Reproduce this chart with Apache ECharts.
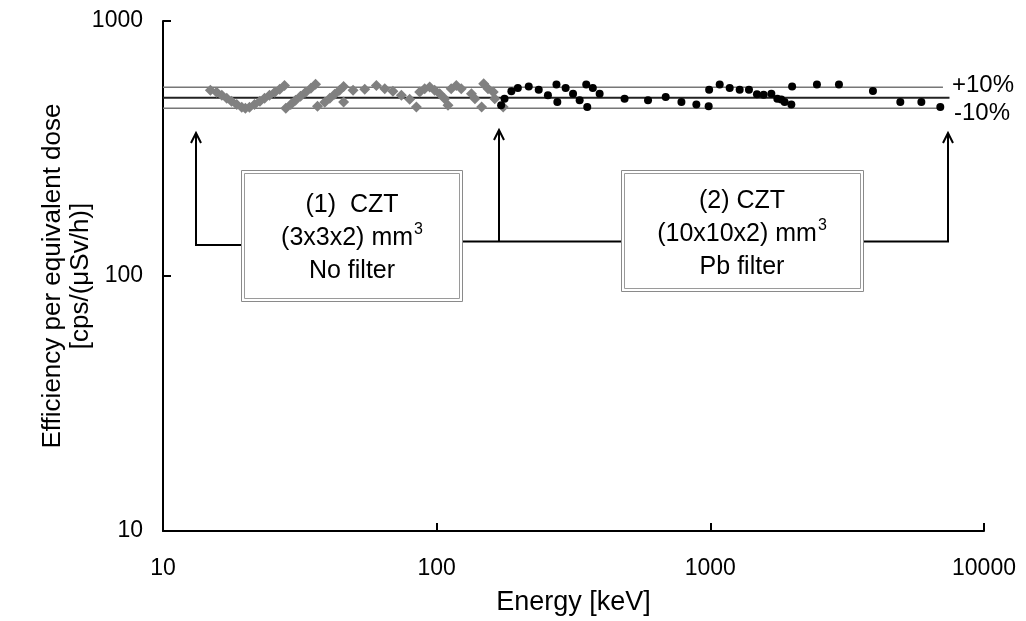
<!DOCTYPE html>
<html>
<head>
<meta charset="utf-8">
<script src="https://cdn.jsdelivr.net/npm/echarts@6/dist/echarts.min.js"></script>
<style>
  html, body { margin: 0; padding: 0; background: #fff; }
  #chart { width: 1026px; height: 621px; }
</style>
</head>
<body>
<div id="chart"></div>
<script>
// (1) CZT (3x3x2) mm3, no filter  - grey diamonds
var czt1Energy = [14.9, 15.7, 16.4, 17.1, 17.8, 18.6, 19.4, 20.0, 20.7, 21.6, 22.6, 23.5, 24.5, 25.6, 26.7, 27.8,
    28.1, 29.3, 30.5, 31.8, 33.2, 34.7, 36.1, 36.7, 39.0, 40.7, 42.4, 44.2, 45.7, 45.7, 49.5, 54.6, 60.2, 64.6,
    69.2, 74.3, 79.7, 84.3, 86.7, 90.4, 94.3, 98.3, 102.6, 107, 110, 113, 118, 123, 134, 138, 146, 148.5, 154, 161, 163, 175];
var czt1Eff = [535, 525, 511, 498, 484, 471, 459, 455, 459, 471, 484, 498, 511, 525, 540, 559,
    455, 471, 489, 507, 525, 545, 565, 463, 480, 498, 516, 535, 554, 481, 535, 540, 559, 543,
    530, 511, 493, 460, 527, 543, 551, 535, 519, 496, 467, 543, 559, 543, 519, 496, 460, 568, 543, 527, 496, 460];

// (2) CZT (10x10x2) mm3, Pb filter - black dots
var czt2Energy = [172, 177, 187.5, 198, 217, 236, 255, 274, 276, 296, 315, 333, 352, 355, 372, 394, 486, 592,
    687, 784, 889, 986, 990, 1082, 1177, 1280, 1384, 1480, 1566, 1671, 1757, 1817, 1868, 1977, 1990, 2452, 2951,
    3928, 4946, 5903, 6923];
var czt2Eff = [467, 496, 530, 546, 554, 538, 511, 563, 481, 546, 519, 489, 563, 460, 546, 519, 496, 489,
    504, 481, 470, 463, 538, 563, 546, 538, 538, 516, 514, 519, 496, 492, 481, 470, 554, 563, 563,
    532, 481, 481, 460];

// reference band (mean and +/-10 %)
var bandEnergy = [10, 7080];
var midEnergy = [10, 7480];
var bandUpper = [550, 550];
var bandMid = [500, 500];
var bandLower = [455, 455];

var xTickLabels = ['10', '100', '1000', '10000'];
var yTickLabels = ['10', '100', '1000'];

function zip(xs, ys) {
    return xs.map(function (x, i) { return [x, ys[i]]; });
}

var FONT = '"Liberation Sans", Arial, sans-serif';

function tickFmt(list) {
    return function (v) {
        var s = String(Math.round(v));
        return list.indexOf(s) >= 0 ? s : '';
    };
}

var chartDom = document.getElementById('chart');
var myChart = echarts.init(chartDom);

var boxStyleOuter = { fill: '#fff', stroke: '#8a8a8a', lineWidth: 1 };
var boxStyleInner = { fill: 'none', stroke: '#9a9a9a', lineWidth: 1 };
var arrowStyle = { fill: 'none', stroke: '#000', lineWidth: 2 };

var boxRich = {
    t: { fontSize: 25, fontFamily: FONT, color: '#000', lineHeight: 33 },
    sup: { fontSize: 16, fontFamily: FONT, color: '#000', lineHeight: 33, verticalAlign: 'top', padding: [0, 0, 0, 1] }
};

var option = {
    backgroundColor: '#fff',
    animation: false,
    grid: { left: 163, right: 42, top: 21, bottom: 90, outerBoundsMode: 'none' },
    xAxis: {
        type: 'log',
        logBase: 10,
        min: 10,
        max: 10000,
        name: 'Energy [keV]',
        nameLocation: 'middle',
        nameGap: 58,
        nameMoveOverlap: false,
        nameTextStyle: { color: '#000', fontSize: 27, fontFamily: FONT },
        axisLine: { lineStyle: { color: '#000', width: 2 } },
        axisTick: { inside: true, length: 8, lineStyle: { color: '#000', width: 2 } },
        axisLabel: { color: '#000', fontSize: 23, fontFamily: FONT, margin: 26, formatter: tickFmt(xTickLabels) },
        splitLine: { show: false },
        minorTick: { show: false }
    },
    yAxis: {
        type: 'log',
        logBase: 10,
        min: 10,
        max: 1000,
        name: 'Efficiency per equivalent dose\n[cps/(\u03bcSv/h)]',
        nameLocation: 'middle',
        nameRotate: 90,
        nameGap: 68,
        nameMoveOverlap: false,
        nameTextStyle: { color: '#000', fontSize: 26, lineHeight: 28, fontFamily: FONT },
        axisLine: { lineStyle: { color: '#000', width: 2 } },
        axisTick: { inside: true, length: 8, lineStyle: { color: '#000', width: 2 } },
        axisLabel: { color: '#000', fontSize: 23, fontFamily: FONT, margin: 20, formatter: tickFmt(yTickLabels) },
        splitLine: { show: false }
    },
    series: [
        {
            name: '+10%',
            type: 'line',
            data: zip(bandEnergy, bandUpper),
            symbol: 'none',
            silent: true,
            z: 1,
            lineStyle: { color: '#777', width: 1.5 },
            endLabel: { show: true, formatter: '+10%', color: '#000', fontSize: 24, fontFamily: FONT, distance: 9, offset: [0, -2] }
        },
        {
            name: 'mean',
            type: 'line',
            data: zip(midEnergy, bandMid),
            symbol: 'none',
            silent: true,
            z: 1,
            lineStyle: { color: '#222', width: 2.2 }
        },
        {
            name: '-10%',
            type: 'line',
            data: zip(bandEnergy, bandLower),
            symbol: 'none',
            silent: true,
            z: 1,
            lineStyle: { color: '#777', width: 1.5 },
            endLabel: { show: true, formatter: '-10%', color: '#000', fontSize: 24, fontFamily: FONT, distance: 11, offset: [0, 5] }
        },
        {
            name: '(1) CZT (3x3x2) mm\u00b3 No filter',
            type: 'scatter',
            data: zip(czt1Energy, czt1Eff),
            symbol: 'diamond',
            symbolSize: 11,
            z: 3,
            itemStyle: { color: '#808080', opacity: 1 }
        },
        {
            name: '(2) CZT (10x10x2) mm\u00b3 Pb filter',
            type: 'scatter',
            data: zip(czt2Energy, czt2Eff),
            symbol: 'circle',
            symbolSize: 8,
            z: 4,
            itemStyle: { color: '#000', opacity: 1 }
        }
    ],
    graphic: [
        // arrows and connecting lines
        { type: 'polyline', shape: { points: [[242, 245], [196, 245], [196, 134]] }, style: arrowStyle, z: 10 },
        { type: 'polyline', shape: { points: [[191, 143], [196, 133], [201, 143]] }, style: arrowStyle, z: 10 },
        { type: 'polyline', shape: { points: [[462, 241.5], [622, 241.5]] }, style: arrowStyle, z: 10 },
        { type: 'polyline', shape: { points: [[499, 241.5], [499, 131]] }, style: arrowStyle, z: 10 },
        { type: 'polyline', shape: { points: [[494, 140], [499, 130], [504, 140]] }, style: arrowStyle, z: 10 },
        { type: 'polyline', shape: { points: [[863, 241.5], [948, 241.5], [948, 134]] }, style: arrowStyle, z: 10 },
        { type: 'polyline', shape: { points: [[943, 143], [948, 133], [953, 143]] }, style: arrowStyle, z: 10 },
        // box 1
        { type: 'rect', shape: { x: 241.5, y: 170.5, width: 221, height: 131 }, style: boxStyleOuter, z: 11 },
        { type: 'rect', shape: { x: 244.5, y: 173.5, width: 215, height: 125 }, style: boxStyleInner, z: 11 },
        {
            type: 'text', x: 352, y: 238, z: 12,
            style: { text: '{t|(1)  CZT}\n{t|(3x3x2) mm}{sup|3}\n{t|No filter}', rich: boxRich,
                     align: 'center', verticalAlign: 'middle' }
        },
        // box 2
        { type: 'rect', shape: { x: 621.5, y: 170.5, width: 242, height: 121 }, style: boxStyleOuter, z: 11 },
        { type: 'rect', shape: { x: 624.5, y: 173.5, width: 236, height: 115 }, style: boxStyleInner, z: 11 },
        {
            type: 'text', x: 742, y: 234, z: 12,
            style: { text: '{t|(2) CZT}\n{t|(10x10x2) mm}{sup|3}\n{t|Pb filter}', rich: boxRich,
                     align: 'center', verticalAlign: 'middle' }
        }
    ]
};

myChart.setOption(option);
window.addEventListener('resize', function () {
    myChart.resize();
});
</script>
</body>
</html>
